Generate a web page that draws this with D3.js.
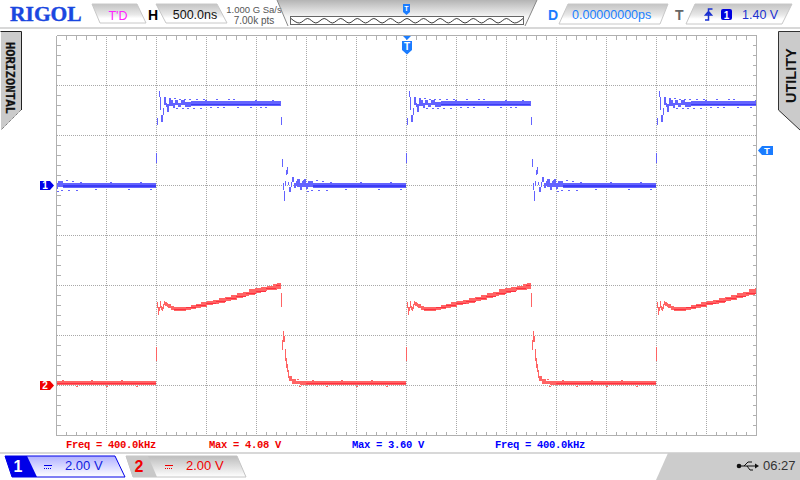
<!DOCTYPE html>
<html><head><meta charset="utf-8">
<script src="https://cdn.jsdelivr.net/npm/d3@7"></script>
<style>html,body{margin:0;padding:0;background:#fff}svg{display:block}text{font-family:"Liberation Sans",sans-serif}</style>
</head><body><svg id="c" width="800" height="480"></svg>
<script>
// Signal data: one switching period, time in ns from the rising edge, volts
const periodStarts=[-5000,-2500,0,2500];
const ch1Times=[0,10,20,30,40,50,70,80,100,110,130,150,170,190,220,250,290,350,1250,1260,1270,1280,1290,1300,1310,1320,1330,1350,1360,1380,1400,1410,1440,1460,1470,1500,1520,1570,2500];
const ch1High=[1.30,2.70,null,3.78,3.54,2.82,3.10,3.54,3.30,3.26,3.50,3.42,3.30,3.42,3.30,3.42,3.34,3.38,2.74,1.06,.10,-.22,.18,.62,.74,.14,-.06,.14,.34,.10,.18,.26,.10,.18,.22,.10,.18,.10,null];
const ch1Low=[.90,2.42,null,3.54,3.02,2.54,2.82,3.22,3.14,2.94,3.18,3.18,3.10,3.22,3.14,3.22,3.14,3.18,2.42,.74,-.18,-.62,-.02,.42,.46,.02,-.26,-.06,.14,-.10,-.02,-.06,-.18,-.06,-.06,-.14,-.06,-.10,null];
const ch1CoreStart=[350,1570],ch1CoreEnd=[1240,2500],ch1CoreHigh=[3.28,.02],ch1CoreLow=[3.22,-.04];
const ch1SpeckTimes=[180,200,230,260,280,310,330,370,400,440,470,490,540,600,610,670,720,770,810,940,990,1040,1090,1160,1480,1510,1540,1550,1600,1620,1660,1700,1740,1890,2040,2220,2340,2440];
const ch1SpeckVolts=[3.50,3.10,3.46,3.10,3.46,3.10,3.46,3.10,3.46,3.10,3.46,3.42,3.14,3.46,3.14,3.14,3.46,3.46,3.14,3.14,3.42,3.14,3.14,3.42,.26,-.22,.18,-.18,.22,-.18,.18,-.18,.14,-.14,.14,-.14,.14,-.14];
const ch2Times=[0,10,20,30,40,50,60,70,80,90,110,120,150,180,300,350,400,450,510,570,630,690,750,810,870,930,990,1050,1110,1170,1210,1250,1260,1270,1280,1290,1300,1310,1320,1330,1360,1400,1440,2500];
const ch2High=[1.54,3.34,3.14,3.14,3.38,3.18,3.14,3.26,3.38,3.34,3.30,3.26,3.18,3.14,3.14,3.22,3.26,3.34,3.38,3.42,3.50,3.54,3.62,3.70,3.74,3.86,3.90,3.94,3.98,4.06,4.10,3.70,1.82,2.18,1.98,1.46,1.10,.86,.62,.38,.26,.18,.18,null];
const ch2Low=[.98,3.10,2.82,2.98,3.10,3.02,2.98,3.06,3.22,3.18,3.14,3.10,3.02,2.98,3.02,3.06,3.10,3.14,3.22,3.26,3.30,3.38,3.42,3.50,3.58,3.62,3.70,3.78,3.82,3.82,3.86,3.14,1.42,1.74,1.74,.98,.70,.54,.30,.18,.06,.06,.02,null];
const ch2CoreStart=[180,300,400,500,600,700,800,900,1000,1100,1200,1500],ch2CoreEnd=[300,400,500,600,700,800,900,1000,1100,1200,1240,2500];
const ch2CoreHigh=[3.08,3.16,3.24,3.32,3.40,3.52,3.60,3.72,3.80,3.92,4.04,.12],ch2CoreLow=[3.04,3.12,3.20,3.28,3.36,3.48,3.56,3.68,3.76,3.88,4.00,.08];
const ch2SpeckTimes=[1410,1430,1560,1700,1850,2000,2150,2300];
const ch2SpeckVolts=[.26,-.02,.22,-.02,.22,-.02,.22,-.02];
const stripLevels=[1,0,1,0,1,0,1,0,1,0,1,0,1,0,1,0,1,0,1,0,1,0,1,0,1,0,1,0,1];
// Labels
const measurements=[["Freq = 400.0kHz","#f00000",66],["Max = 4.08 V","#f00000",209],["Max = 3.60 V","#0000ff",352],["Freq = 400.0kHz","#0000ff",495]];

const svg=d3.select("#c");
const xs=d3.scaleLinear().domain([-3500,3500]).range([56.5,756.5]);
const yd=d3.scaleLinear().domain([-4,4]).range([435.5,35.5]);
const ch1Y=v=>yd(1+v/2), ch2Y=v=>yd(-3+v/2);
const defs=svg.append("defs");
function grad(id,stops){const g=defs.append("linearGradient").attr("id",id).attr("x1",0).attr("x2",0).attr("y1",0).attr("y2",1);
 stops.forEach(s=>g.append("stop").attr("offset",s[0]).attr("stop-color",s[1]));}
grad("box",[[0,"#c4c4c4"],[.55,"#e8e8e8"],[.75,"#fff"],[1,"#fff"]]);
grad("panel",[[0,"#b4b4b4"],[.6,"#f4f4f4"],[1,"#fff"]]);
grad("blueTab",[[0,"#b0b0ff"],[.6,"#e0e0ff"],[1,"#fff"]]);
grad("grayTab",[[0,"#bdbdbd"],[.6,"#e4e4e4"],[1,"#fff"]]);
defs.append("clipPath").attr("id","plot").append("rect").attr("x",57).attr("y",36).attr("width",699).attr("height",399);
const poly=(pts,fill,stroke,sw)=>svg.append("polygon").attr("points",pts.map(p=>p.join(",")).join(" ")).attr("fill",fill).attr("stroke",stroke||"none").attr("stroke-width",sw||1);
const txt=(s,x,y,size,fill,o={})=>svg.append("text").text(s).attr("x",x).attr("y",y).attr("font-size",size).attr("fill",fill)
 .attr("text-anchor",o.anchor||"start").attr("font-weight",o.weight||"normal").style("font-family",o.family||null);

// chrome bands
svg.append("rect").attr("width",800).attr("height",480).attr("fill","#fff");
svg.append("rect").attr("y",27).attr("width",800).attr("height",2).attr("fill","#d8d8d8");
svg.append("rect").attr("y",452).attr("width",800).attr("height",2).attr("fill","#d8d8d8");

// grid through axes
const gridX=d3.range(-3000,3500,500), gridY=d3.range(-3,4,1);
const minorX=d3.range(-3500,3501,100).filter(t=>t%500!==0);
const minorY=d3.range(-4,4.01,.2).map(d=>+d.toFixed(1)).filter(d=>Math.abs(d%1)>.01&&Math.abs(d%1)<.99);
const gx=svg.append("g").attr("transform","translate(0,435.5)").call(d3.axisTop(xs).offset(0).tickValues(gridX).tickSize(400).tickFormat(""));
const gy=svg.append("g").attr("transform","translate(56.5,0)").call(d3.axisRight(yd).offset(0).tickValues(gridY).tickSize(700).tickFormat(""));
[gx,gy].forEach(g=>{g.select(".domain").remove();g.selectAll("line").attr("stroke","#a8a8a8").attr("stroke-dasharray","1 1").attr("shape-rendering","crispEdges");});
[[d3.axisBottom(xs),"0,35.5",minorX],[d3.axisTop(xs),"0,435.5",minorX],[d3.axisRight(yd),"56.5,0",minorY],[d3.axisLeft(yd),"756.5,0",minorY]].forEach(a=>{
 const g=svg.append("g").attr("transform","translate("+a[1]+")").call(a[0].offset(0).tickSize(4).tickValues(a[2]).tickFormat("").tickSizeOuter(0));
 g.select(".domain").attr("stroke","#b0b0b0").attr("stroke-width",1).attr("shape-rendering","crispEdges");
 g.selectAll("line").attr("stroke","#b0b0b0").attr("shape-rendering","crispEdges");
});

// traces
const traces=svg.append("g").attr("clip-path","url(#plot)").attr("shape-rendering","crispEdges");
function drawTrace(times,hi,lo,cs,ce,ch,cl,st,sv,yf,light,dark){
 const g=traces.append("g");
 periodStarts.forEach(p=>{
  const cols=times.slice(0,-1).map((t,i)=>({t:t+p,e:times[i+1]+p,hi:hi[i],lo:lo[i]})).filter(d=>d.hi!==null);
  g.append("g").selectAll("rect").data(cols).join("rect").attr("fill",light)
   .attr("x",d=>xs(d.t)-.5).attr("width",d=>xs(d.e)-xs(d.t))
   .attr("y",d=>yf(d.hi)).attr("height",d=>yf(d.lo)-yf(d.hi));
  g.append("g").selectAll("rect").data(cs.map((t,i)=>({t:t+p,e:ce[i]+p,hi:ch[i],lo:cl[i]}))).join("rect").attr("fill",dark)
   .attr("x",d=>xs(d.t)-.5).attr("width",d=>xs(d.e)-xs(d.t))
   .attr("y",d=>yf(d.hi)).attr("height",d=>yf(d.lo)-yf(d.hi));
  g.append("g").selectAll("rect").data(st.map((t,i)=>({t:t+p,v:sv[i]}))).join("rect").attr("fill",light)
   .attr("x",d=>xs(d.t)-.5).attr("width",2).attr("y",d=>yf(d.v)).attr("height",1);
 });
}
drawTrace(ch1Times,ch1High,ch1Low,ch1CoreStart,ch1CoreEnd,ch1CoreHigh,ch1CoreLow,ch1SpeckTimes,ch1SpeckVolts,ch1Y,"#6464ff","#3c3cf4");
drawTrace(ch2Times,ch2High,ch2Low,ch2CoreStart,ch2CoreEnd,ch2CoreHigh,ch2CoreLow,ch2SpeckTimes,ch2SpeckVolts,ch2Y,"#ff6464","#ff3040");

// header
txt("RIGOL",10,20.5,21.5,"#1a47e0",{weight:"bold",family:"Liberation Serif"}).attr("stroke","#1a47e0").attr("stroke-width",.4);
poly([[92,4],[137,4],[146,23],[100,23]],"url(#box)","#c8c8c8");
txt("T'D",118,19.5,12.5,"#ff22ff",{anchor:"middle"});
txt("H",148,20,14,"#000",{weight:"bold"});
poly([[156,4],[217,4],[227,23],[166,23]],"url(#box)","#c8c8c8");
txt("500.0ns",195,19,12.5,"#111",{anchor:"middle"});
poly([[277,0],[537,0],[525,27],[289,27]],"url(#panel)");
txt("1.000 G Sa/s",254,13,9.5,"#555",{anchor:"middle"});
txt("7.00k pts",254,24,10,"#555",{anchor:"middle"});
svg.append("line").attr("x1",277).attr("y1",0).attr("x2",288).attr("y2",26).attr("stroke","#888");
svg.append("line").attr("x1",537).attr("y1",0).attr("x2",525).attr("y2",26).attr("stroke","#888");
svg.append("rect").attr("x",290.5).attr("y",16.5).attr("width",233).attr("height",8).attr("fill","#fff").attr("stroke","#666");
const sx=d3.scaleLinear().domain([0,stripLevels.length-1]).range([291,523]);
const sy=d3.scaleLinear().domain([0,1]).range([23,18.5]);
svg.append("path").attr("d",d3.line().x((d,i)=>sx(i)).y(d=>sy(d)).curve(d3.curveMonotoneX)(stripLevels)).attr("fill","none").attr("stroke","#222").attr("stroke-width",.9);
poly([[403,4],[410,4],[410,12],[406.5,15],[403,12]],"#1a7cff");
txt("T",406.5,11,7,"#fff",{anchor:"middle",weight:"bold"});
txt("D",548,20,14,"#1a7cff",{weight:"bold"});
poly([[568,4],[668,4],[660,24],[559,24]],"url(#box)","#c8c8c8");
txt("0.00000000ps",572,19,12.5,"#2080ff");
txt("T",675,20,14,"#666",{weight:"bold"});
poly([[695,4],[792,4],[782,24],[686,24]],"url(#box)","#c8c8c8");
svg.append("path").attr("d","M705 20H708.5V9H712.5M705.5 15L708.5 11.5L711.5 15Z").attr("fill","none").attr("stroke","#1a30d0").attr("stroke-width",1.5);
svg.append("rect").attr("x",721).attr("y",9).attr("width",11).attr("height",11).attr("rx",2).attr("fill","#0000e0");
txt("1",726.5,18.5,10,"#fff",{anchor:"middle",weight:"bold"});
txt("1.40 V",742,19,12.5,"#2030d0");

// trigger position marker
poly([[403,36],[411,36],[407,40]],"#1a7cff");
poly([[402,41],[412,41],[412,50],[407,54.5],[402,50]],"#1a7cff");
txt("T",407,50,10,"#fff",{anchor:"middle",weight:"bold"});

// side tabs
poly([[1,32],[21,32],[21,110],[1,130]],"#cbcbcb");
svg.append("path").attr("d","M0.5 31.5H21.5V110").attr("fill","none").attr("stroke","#222");
svg.append("line").attr("x1",21).attr("y1",110).attr("x2",1).attr("y2",130).attr("stroke","#555").attr("stroke-dasharray","1 1");
svg.append("text").text("HORIZONTAL").attr("transform","translate(6,42) rotate(90)").attr("font-size",12).attr("font-weight","bold").attr("fill","#111").attr("stroke","#111").attr("stroke-width",.25).style("font-family","Liberation Mono");
poly([[778,32],[800,32],[800,130],[778,110]],"#cbcbcb");
svg.append("path").attr("d","M800 31.5H778.5V110L800 130").attr("fill","none").attr("stroke","#333");
svg.append("text").text("UTILITY").attr("transform","translate(796,103) rotate(-90)").attr("font-size",14.5).attr("font-weight","bold").attr("fill","#111");

// channel and level markers
poly([[40,181],[50,181],[54,185.5],[50,190],[40,190]],"#0000e8");
txt("1",45,189,10,"#fff",{anchor:"middle",weight:"bold"});
poly([[40,381],[50,381],[54,385.5],[50,390],[40,390]],"#f00000");
txt("2",45,389,10,"#fff",{anchor:"middle",weight:"bold"});
poly([[773,146],[762,146],[758,150.5],[762,155],[773,155]],"#1a7cff");
txt("T",767,154,9.5,"#fff",{anchor:"middle",weight:"bold"});

// measurements
measurements.forEach(m=>txt(m[0],m[2],448,10.5,m[1],{weight:"bold",family:"Liberation Mono"}).attr("letter-spacing",-.3));

// channel tabs
poly([[5,456],[115,456],[125,477],[12,477]],"url(#blueTab)","#0000e8");
poly([[5,456],[27,456],[37,477],[12,477]],"#0000e8");
txt("1",18,472,16,"#fff",{anchor:"middle",weight:"bold"});
svg.append("path").attr("d","M44 465.5H52").attr("stroke","#0000e8");
svg.append("path").attr("d","M44 468.5H52").attr("stroke","#0000e8").attr("stroke-dasharray","1 1");
txt("2.00 V",65,470,13,"#1020e0");
poly([[126,456],[237,456],[246,477],[133,477]],"url(#grayTab)","#c4c4c4");
poly([[126,456],[148,456],[157,477],[133,477]],"#c8c8c8");
txt("2",139,472,16,"#f00000",{anchor:"middle",weight:"bold"});
svg.append("path").attr("d","M165 465.5H173").attr("stroke","#f00000");
svg.append("path").attr("d","M165 468.5H173").attr("stroke","#f00000").attr("stroke-dasharray","1 1");
txt("2.00 V",186,470,13,"#f00000");

// status corner
poly([[668,453],[800,453],[800,480],[656,480]],"#cccccc");
svg.append("circle").attr("cx",739).attr("cy",466).attr("r",2.3).attr("fill","#111");
svg.append("path").attr("d","M739 466H757M744 466L748 462H752M747 466L750 470H753").attr("fill","none").attr("stroke","#111");
poly([[755,463.5],[759,466],[755,468.5]],"#111");
txt("06:27",763,470,13,"#333");
</script></body></html>
